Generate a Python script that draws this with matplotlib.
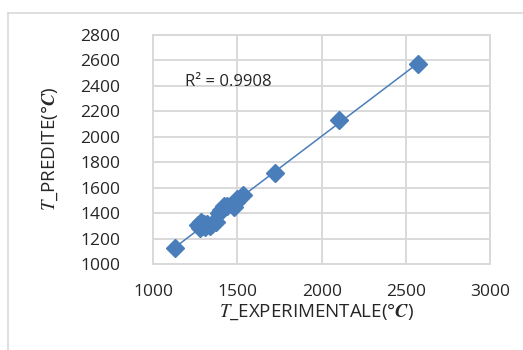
import numpy as np
import matplotlib
matplotlib.use("Agg")
import matplotlib.pyplot as plt
from matplotlib.lines import Line2D

plt.rcParams["font.family"] = ["Open Sans", "DejaVu Sans"]
plt.rcParams["mathtext.fontset"] = "stix"

# Experimental vs predicted temperatures (°C)
t_experimental = [1130, 1265, 1275, 1285, 1290, 1300, 1310, 1320, 1335, 1350,
                  1370, 1390, 1405, 1420, 1440, 1480, 1490, 1500, 1530, 1725,
                  2105, 2570]
t_predite = [1130, 1310, 1285, 1330, 1300, 1320, 1290, 1315, 1300, 1320,
             1330, 1400, 1430, 1455, 1460, 1450, 1490, 1510, 1545, 1720,
             2130, 2570]
r2_label = "R² = 0.9908"
x_ticks = [1000, 1500, 2000, 2500, 3000]
y_ticks = [1000, 1200, 1400, 1600, 1800, 2000, 2200, 2400, 2600, 2800]

blue = "#4A7EBB"
grid_grey = "#D9D9D9"
text_col = "#262626"

fig = plt.figure(figsize=(5.23, 3.5), dpi=100)
ax = fig.add_axes([0.2931, 0.2449, 0.6438, 0.6551])

x = np.array(t_experimental, dtype=float)
y = np.array(t_predite, dtype=float)

# linear trendline fitted to the points
slope, intercept = np.polyfit(x, y, 1)
xl = np.array([x.min(), x.max()])
ax.plot(xl, slope * xl + intercept, color=blue, lw=1.1, zorder=2)

ax.plot(x, y, linestyle="none", marker="D", markersize=9.5,
        color=blue, markeredgecolor=blue, zorder=3)

ax.set_xlim(x_ticks[0], x_ticks[-1])
ax.set_ylim(y_ticks[0], y_ticks[-1])
ax.set_xticks(x_ticks)
ax.set_yticks(y_ticks)
ax.grid(True, color=grid_grey, lw=1.4)
ax.set_axisbelow(True)
for sp in ax.spines.values():
    sp.set_color(grid_grey)
    sp.set_linewidth(1.4)
ax.tick_params(axis="both", length=0, labelsize=12.5, colors=text_col)
ax.tick_params(axis="y", pad=24)
ax.tick_params(axis="x", pad=14)

ax.text(1188, 2431, r2_label, fontsize=12, color=text_col,
        ha="left", va="center")

fig.text(0.0956, 0.575, r"$T$_PREDITE(°$\mathbfit{C}$)", rotation=90,
         fontsize=13.5, color=text_col, ha="center", va="center")
fig.text(0.606, 0.108, r"$T$_EXPERIMENTALE(°$\mathbfit{C}$)",
         fontsize=13.5, color=text_col, ha="center", va="center")

# outer chart frame (top and left edges visible)
fig.add_artist(Line2D([0.0145, 1.0], [0.964, 0.964], transform=fig.transFigure,
                      color=grid_grey, lw=1.2))
fig.add_artist(Line2D([0.0145, 0.0145], [0.0, 0.964], transform=fig.transFigure,
                      color=grid_grey, lw=1.2))

fig.savefig("out.png", dpi=100)
